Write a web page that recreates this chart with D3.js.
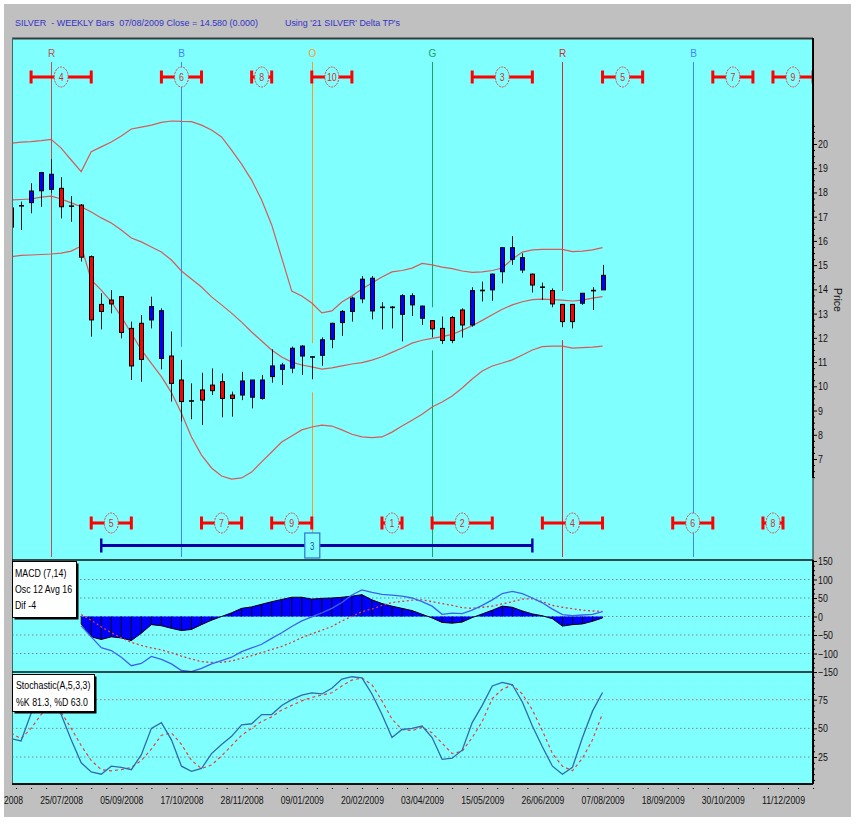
<!DOCTYPE html>
<html><head><meta charset="utf-8">
<script src="https://cdn.jsdelivr.net/npm/d3@7"></script>
<style>
body{margin:0;background:#fff}
svg{display:block}
text{font-family:"Liberation Sans",Arial,sans-serif;white-space:pre}
</style>
</head><body>
<svg id="chart" width="859" height="825"></svg>
<script>
// ---------------- DATA ----------------
const dates = ["20/06/2008","27/06/2008","04/07/2008","11/07/2008","18/07/2008","25/07/2008","01/08/2008","08/08/2008","15/08/2008","22/08/2008",
"29/08/2008","05/09/2008","12/09/2008","19/09/2008","26/09/2008","03/10/2008","10/10/2008","17/10/2008","24/10/2008","31/10/2008",
"07/11/2008","14/11/2008","21/11/2008","28/11/2008","05/12/2008","12/12/2008","19/12/2008","26/12/2008","02/01/2009","09/01/2009",
"16/01/2009","23/01/2009","30/01/2009","06/02/2009","13/02/2009","20/02/2009","27/02/2009","06/03/2009","13/03/2009","20/03/2009",
"27/03/2009","03/04/2009","10/04/2009","17/04/2009","24/04/2009","01/05/2009","08/05/2009","15/05/2009","22/05/2009","29/05/2009",
"05/06/2009","12/06/2009","19/06/2009","26/06/2009","03/07/2009","10/07/2009","17/07/2009","24/07/2009","31/07/2009","07/08/2009"];

const openP  = [16.57,17.42,17.58,18.07,18.13,18.17,17.45,17.48,15.35,13.38, 13.56,13.70,12.39,12.60,12.74,11.15,11.25,10.26,9.41,9.85,
                10.05,10.19,9.64,9.64,9.55,9.50,10.40,10.70,10.75,11.25, 11.20,11.28,11.94,12.63,13.09,13.61,13.11,13.27,13.25,12.97,
                13.36,12.81,12.71,12.39,12.84,13.15,12.53,13.94,13.98,14.73, 15.24,14.80,14.63,14.08,13.95,13.38,13.38,13.43,13.94,13.98];
const highP  = [17.40,17.62,18.38,18.85,19.37,18.63,17.85,17.52,15.40,13.84, 13.97,13.72,12.67,12.94,13.70,13.22,12.26,11.09,10.12,10.56,
                10.74,10.53,9.78,10.60,10.26,10.47,11.53,10.97,11.64,11.70, 11.24,12.02,12.62,13.15,13.70,14.55,14.55,13.47,13.31,13.80,
                13.84,13.33,12.73,12.88,12.90,13.22,14.09,14.32,14.65,15.74, 16.20,15.49,14.65,14.28,14.04,13.40,13.40,13.84,14.09,15.01];
const lowP   = [16.50,16.45,17.14,17.41,17.97,16.93,16.79,15.15,12.05,12.35, 13.01,11.98,10.26,10.19,12.39,10.70,9.37,8.54,8.64,8.40,
                9.64,8.72,8.75,9.43,9.09,9.45,10.15,10.05,10.54,10.47, 10.29,10.85,11.57,12.08,12.67,13.43,12.76,12.35,12.39,11.85,
                12.90,12.53,12.02,11.75,11.78,12.01,12.46,13.50,13.53,14.25, 15.01,14.67,13.87,13.56,13.26,12.44,12.39,13.36,13.15,13.98];
const closeP = [17.36,17.48,18.06,18.82,18.75,17.41,17.42,15.33,12.74,13.09, 13.40,12.22,10.84,11.11,13.29,13.12,10.12,9.37,9.38,9.43,
                9.82,9.50,9.50,10.22,10.26,10.26,10.84,10.88,11.57,11.66, 11.22,11.92,12.60,13.09,13.64,14.42,14.46,13.25,13.27,13.74,
                13.74,13.31,12.37,11.89,11.89,12.53,13.95,13.97,14.63,15.72, 15.72,15.31,14.18,14.10,13.40,12.67,12.67,13.84,13.96,14.58];

const bbUpper  = [20.03,20.08,20.10,20.14,20.19,19.83,19.34,18.86,19.68,19.88, 20.08,20.33,20.62,20.70,20.78,20.89,20.95,20.93,20.92,20.78,
                  20.58,20.29,19.75,19.17,18.51,17.69,16.66,15.30,13.93,13.73, 13.44,13.03,13.11,13.48,13.73,14.02,14.26,14.51,14.72,14.78,
                  14.88,15.07,15.01,14.92,14.86,14.76,14.70,14.72,14.78,14.88, 15.25,15.54,15.63,15.65,15.65,15.65,15.56,15.58,15.63,15.72];
const bbMiddle = [17.69,17.71,17.73,17.81,17.85,17.73,17.57,17.41,17.19,16.95, 16.74,16.45,16.12,15.96,15.75,15.54,15.21,14.76,14.43,14.10,
                  13.69,13.36,13.02,12.65,12.24,11.87,11.50,11.21,11.00,10.88, 10.80,10.71,10.76,10.84,10.92,10.98,11.08,11.22,11.40,11.58,
                  11.78,11.90,11.98,12.05,12.14,12.32,12.50,12.72,12.95,13.18, 13.36,13.49,13.58,13.60,13.58,13.56,13.52,13.56,13.64,13.70];
const bbLower  = [15.35,15.40,15.42,15.44,15.46,15.50,15.58,15.79,14.39,13.97, 13.49,12.87,12.19,11.50,10.95,10.40,9.74,8.89,7.91,7.16,
                  6.63,6.30,6.17,6.22,6.46,6.88,7.29,7.70,7.95,8.20, 8.32,8.40,8.36,8.20,8.02,7.91,7.88,7.91,8.11,8.36,
                  8.60,8.85,9.15,9.35,9.60,9.93,10.30,10.63,10.84,10.96, 11.09,11.29,11.50,11.64,11.66,11.66,11.58,11.60,11.62,11.66];

const N = null;
const macdHist   = [N,N,N,N,N,N,N,-20,-55,-62, -55,-58,-65,-45,-22,-25,-32,-38,-35,-22, -10,0,10,22,26,33,40,46,52,52,
                    47,49,50,52,55,59,45,35,28,22, 16,6,-4,-16,-18,-15,-3,7,17,28, 25,15,7,2,-6,-26,-22,-20,-13,-4];
const macdLine   = [N,N,N,N,N,N,N,-25,-55,-84, -92,-110,-133,-127,-108,-116,-128,-146,-149,-140, -128,-119,-110,-95,-85,-75,-59,-44,-27,-12,
                    -1,10,22,38,58,72,65,60,58,55, 50,40,28,6,9,8,17,30,45,62, 68,62,50,37,20,5,2,4,6,13];
const macdSignal = [N,N,N,N,N,N,N,5,-10,-28, -44,-58,-70,-78,-85,-90,-98,-107,-115,-122, -124,-124,-120,-113,-106,-98,-89,-81,-70,-57,
                    -47,-37,-27,-12,0,13,20,30,38,41, 44,45,40,35,30,24,22,25,28,34, 40,47,48,40,30,25,21,17,15,14];

const stochK = [41,39,63,80,78,62,40,20,12,10, 17,16,14,27,50,55,40,17,12.5,15, 28,36,43,53,54,62,62,70,75,79,
                81,80,85,93,95,94,80,62,42,49, 50,52,42,23,24,31,55,70,87,90, 88,73,52,34,17,10,16,42,65,81.3];
const stochD = [46,41,50,62,72,64,50,35,22,14, 13,14,16,22,32,44,46,36,22,15, 18,26,35,44,50,56,60,66,70,74,
                77,79,81,87,92,94,88,74,58,49, 48,51,46,37,28,30,42,56,76,84, 88,80,66,48,28,17,13,24,40,63];

const xTickLabels = ["13/06/2008","25/07/2008","05/09/2008","17/10/2008","28/11/2008","09/01/2009","20/02/2009",
                     "03/04/2009","15/05/2009","26/06/2009","07/08/2009","18/09/2009","30/10/2009","11/12/2009"];
const priceTicks = [7,8,9,10,11,12,13,14,15,16,17,18,19,20];
const macdTicks  = [150,100,50,0,-50,-100,-150];
const stochTicks = [75,50,25];

const cycleLines = [
  {label:"R", date:"18/07/2008", color:"#c05050", gap:false},
  {label:"B", date:"17/10/2008", color:"#3f86ff", gap:true},
  {label:"O", date:"16/01/2009", color:"#ff9a20", gap:true},
  {label:"G", date:"10/04/2009", color:"#1fa060", gap:true},
  {label:"R", date:"10/07/2009", color:"#d03030", gap:true},
  {label:"B", date:"09/10/2009", color:"#3f86ff", gap:false}
];
const topMarkers = [
  {n:"4",  from:"04/07/2008", mid:"25/07/2008", to:"15/08/2008"},
  {n:"6",  from:"03/10/2008", mid:"17/10/2008", to:"31/10/2008"},
  {n:"8",  from:"05/12/2008", mid:"12/12/2008", to:"19/12/2008"},
  {n:"10", from:"16/01/2009", mid:"30/01/2009", to:"13/02/2009"},
  {n:"3",  from:"08/05/2009", mid:"29/05/2009", to:"19/06/2009"},
  {n:"5",  from:"07/08/2009", mid:"21/08/2009", to:"04/09/2009"},
  {n:"7",  from:"23/10/2009", mid:"06/11/2009", to:"20/11/2009"},
  {n:"9",  from:"04/12/2009", mid:"18/12/2009", to:"01/01/2010"}
];
const bottomMarkers = [
  {n:"5", from:"15/08/2008", mid:"29/08/2008", to:"12/09/2008"},
  {n:"7", from:"31/10/2008", mid:"14/11/2008", to:"28/11/2008"},
  {n:"9", from:"19/12/2008", mid:"02/01/2009", to:"16/01/2009"},
  {n:"1", from:"06/03/2009", mid:"13/03/2009", to:"20/03/2009"},
  {n:"2", from:"10/04/2009", mid:"01/05/2009", to:"22/05/2009"},
  {n:"4", from:"26/06/2009", mid:"17/07/2009", to:"07/08/2009"},
  {n:"6", from:"25/09/2009", mid:"09/10/2009", to:"23/10/2009"},
  {n:"8", from:"27/11/2009", mid:"04/12/2009", to:"11/12/2009"}
];
const rangeBar = {n:"3", from:"22/08/2008", mid:"16/01/2009", to:"19/06/2009"};

const titleLeft  = "SILVER  - WEEKLY Bars  07/08/2009 Close = 14.580 (0.000)";
const titleRight = "Using '21 SILVER' Delta TP's";
const macdLegend = ["MACD (7,14)", "Osc 12 Avg 16", "Dif -4"];
const stochLegend = ["Stochastic(A,5,3,3)", "%K 81.3, %D 63.0"];

// ---------------- LAYOUT ----------------
const parse = d3.utcParse("%d/%m/%Y");
const PL = 12, PR = 813, PT = 38, PB = 784;
const priceBottom = 560, macdBottom = 672;

const x  = d3.scaleUtc().domain([parse("13/06/2008"), parse("11/12/2009")]).range([1, 783]);
const yP = d3.scaleLinear().domain([7, 20]).range([459, 144]);
const yM = d3.scaleLinear().domain([-150, 150]).range([672, 561]);
const yS = d3.scaleLinear().domain([0, 100]).range([785.7, 671]);

const svg = d3.select("#chart");
const defs = svg.append("defs");
defs.append("clipPath").attr("id","clipPrice").append("rect")
  .attr("x",PL).attr("y",PT).attr("width",PR-PL).attr("height",priceBottom-PT);
defs.append("clipPath").attr("id","clipMacd").append("rect")
  .attr("x",PL).attr("y",priceBottom).attr("width",PR-PL).attr("height",macdBottom-priceBottom);
defs.append("clipPath").attr("id","clipStoch").append("rect")
  .attr("x",PL).attr("y",macdBottom).attr("width",PR-PL).attr("height",PB-macdBottom);
defs.append("clipPath").attr("id","clipGray").append("rect")
  .attr("x",4).attr("y",4).attr("width",847).attr("height",813);

function narrow(sel, f){
  sel.each(function(){
    const w = this.getComputedTextLength();
    d3.select(this).attr("textLength", w*f).attr("lengthAdjust","spacingAndGlyphs");
  });
}

// background
svg.append("rect").attr("x",4).attr("y",4).attr("width",847).attr("height",813).attr("fill","#c0c0c0");
svg.append("rect").attr("x",PL).attr("y",PT).attr("width",PR-PL).attr("height",PB-PT).attr("fill","#80ffff");

// title
svg.append("text").attr("x",15).attr("y",26).attr("font-size",9.6).attr("fill","#3434c8")
  .attr("textLength",243).attr("lengthAdjust","spacingAndGlyphs").text(titleLeft);
svg.append("text").attr("x",285).attr("y",26).attr("font-size",9.6).attr("fill","#3434c8")
  .attr("textLength",115).attr("lengthAdjust","spacingAndGlyphs").text(titleRight);

const bars = dates.map((d,i)=>({date:parse(d), o:openP[i], h:highP[i], l:lowP[i], c:closeP[i],
  up:bbUpper[i], mid:bbMiddle[i], lo:bbLower[i], hist:macdHist[i], macd:macdLine[i], sig:macdSignal[i],
  k:stochK[i], dd:stochD[i]}));

// ---------------- PRICE PANEL ----------------
const gP = svg.append("g").attr("clip-path","url(#clipPrice)");

// cycle lines
cycleLines.forEach(c=>{
  const cx = Math.round(x(parse(c.date)))+0.5;
  const segs = [];
  if (c.gap){
    const b = bars.find(b=>+b.date===+parse(c.date));
    segs.push([62, yP(b.h)-13], [yP(b.l)+ (c.label==="B"?0:13), 557]);
  } else segs.push([62,557]);
  segs.forEach(s=> gP.append("line").attr("x1",cx).attr("x2",cx).attr("y1",s[0]).attr("y2",s[1])
      .attr("stroke",c.color).attr("stroke-width",1));
  gP.append("text").attr("x",cx).attr("y",57).attr("text-anchor","middle").attr("font-size",10)
    .attr("fill",c.color).text(c.label);
});

// bollinger bands
const bandColor = "#e04848";
["up","mid","lo"].forEach(key=>{
  gP.append("path").datum(bars)
    .attr("d", d3.line().x(d=>x(d.date)).y(d=>yP(d[key])))
    .attr("fill","none").attr("stroke",bandColor).attr("stroke-width",1.2).attr("opacity",0.9);
});

// candles
const cg = gP.append("g");
bars.forEach(b=>{
  const cx = Math.round(x(b.date))+0.5;
  cg.append("line").attr("x1",cx).attr("x2",cx).attr("y1",yP(b.h)).attr("y2",yP(b.l))
    .attr("stroke","#1a1a1a").attr("stroke-width",1);
  const top = yP(Math.max(b.o,b.c)), bot = yP(Math.min(b.o,b.c));
  if (bot - top < 2){
    cg.append("line").attr("x1",cx-2.5).attr("x2",cx+2.5).attr("y1",(top+bot)/2).attr("y2",(top+bot)/2)
      .attr("stroke","#000").attr("stroke-width",1.6);
  } else {
    cg.append("rect").attr("x",cx-2).attr("y",top).attr("width",4).attr("height",bot-top)
      .attr("fill", b.c>=b.o ? "#0000ff" : "#ff0000").attr("stroke","#000").attr("stroke-width",1);
  }
});

// markers
function drawMarker(m, y){
  const x0 = x(parse(m.from)), x1 = x(parse(m.to)), xm = x(parse(m.mid));
  gP.append("line").attr("x1",x0).attr("x2",x1).attr("y1",y).attr("y2",y)
    .attr("stroke","#ff0000").attr("stroke-width",3);
  [x0,x1].forEach(xx=> gP.append("rect").attr("x",xx-1.5).attr("y",y-6.5).attr("width",3).attr("height",13).attr("fill","#ff0000"));
  gP.append("ellipse").attr("cx",xm).attr("cy",y).attr("rx",7).attr("ry",10)
    .attr("fill","#80ffff").attr("stroke","#e04040").attr("stroke-width",1).attr("stroke-dasharray","2,1");
  gP.append("text").attr("x",xm).attr("y",y+4).attr("text-anchor","middle").attr("font-size",11)
    .attr("fill","#d03030").text(m.n).call(narrow,0.8);
}
topMarkers.forEach(m=>drawMarker(m, 77));
bottomMarkers.forEach(m=>drawMarker(m, 523));

// range bar
(function(){
  const x0 = x(parse(rangeBar.from)), x1 = x(parse(rangeBar.to)), xm = x(parse(rangeBar.mid));
  const y = 545.5;
  gP.append("line").attr("x1",x0).attr("x2",x1).attr("y1",y).attr("y2",y).attr("stroke","#0000a8").attr("stroke-width",3);
  [x0,x1].forEach(xx=> gP.append("rect").attr("x",xx-1.2).attr("y",y-7).attr("width",2.4).attr("height",14).attr("fill","#0000a8"));
  gP.append("rect").attr("x",xm-7).attr("y",533).attr("width",15).attr("height",25)
    .attr("fill","#80ffff").attr("stroke","#3070d0").attr("stroke-width",1.2);
  gP.append("text").attr("x",xm+0.5).attr("y",550).attr("text-anchor","middle").attr("font-size",10)
    .attr("fill","#2050a0").text(rangeBar.n).call(narrow,0.8);
})();

// ---------------- MACD PANEL ----------------
const gM = svg.append("g").attr("clip-path","url(#clipMacd)");
[100,50,0,-50,-100].forEach(v=> gM.append("line").attr("x1",PL).attr("x2",PR).attr("y1",yM(v)).attr("y2",yM(v))
  .attr("stroke","#7a8a8a").attr("stroke-width",1).attr("stroke-dasharray","1.5,2.5"));
const mData = bars.filter(d=>d.hist!==null);
gM.append("path").datum(mData)
  .attr("d", d3.area().x(d=>x(d.date)).y0(yM(0)).y1(d=>yM(d.hist)))
  .attr("fill","#0000ff").attr("stroke","none");
gM.append("path").datum(mData)
  .attr("d", d3.line().x(d=>x(d.date)).y(d=>yM(d.hist)))
  .attr("fill","none").attr("stroke","#000").attr("stroke-width",1);
mData.forEach(d=> gM.append("line").attr("x1",x(d.date)).attr("x2",x(d.date)).attr("y1",yM(0)).attr("y2",yM(d.hist))
  .attr("stroke","#000").attr("stroke-width",0.9));
gM.append("path").datum(mData)
  .attr("d", d3.line().x(d=>x(d.date)).y(d=>yM(d.sig)))
  .attr("fill","none").attr("stroke","#e03a3a").attr("stroke-width",1.3).attr("stroke-dasharray","2,2.5");
gM.append("path").datum(mData)
  .attr("d", d3.line().x(d=>x(d.date)).y(d=>yM(d.macd)))
  .attr("fill","none").attr("stroke","#3c62f0").attr("stroke-width",1.3);

// ---------------- STOCHASTIC PANEL ----------------
const gS = svg.append("g").attr("clip-path","url(#clipStoch)");
stochTicks.forEach(v=> gS.append("line").attr("x1",PL).attr("x2",PR).attr("y1",yS(v)).attr("y2",yS(v))
  .attr("stroke", v===75 ? "#c86a6a" : "#7a8a8a").attr("stroke-width",1).attr("stroke-dasharray","1.5,2.5"));
gS.append("path").datum(bars)
  .attr("d", d3.line().x(d=>x(d.date)).y(d=>yS(d.dd)))
  .attr("fill","none").attr("stroke","#e84040").attr("stroke-width",1.2).attr("stroke-dasharray","3,3");
gS.append("path").datum(bars)
  .attr("d", d3.line().x(d=>x(d.date)).y(d=>yS(d.k)))
  .attr("fill","none").attr("stroke","#2f6aaa").attr("stroke-width",1.3);

// ---------------- FRAME ----------------
svg.append("line").attr("x1",PL).attr("x2",PR).attr("y1",PT+0.5).attr("y2",PT+0.5).attr("stroke","#3a3a3a").attr("stroke-width",2);
svg.append("line").attr("x1",PL+0.5).attr("x2",PL+0.5).attr("y1",PT).attr("y2",PB).attr("stroke","#3a6a6a").attr("stroke-width",1);
svg.append("line").attr("x1",PL).attr("x2",PR).attr("y1",priceBottom).attr("y2",priceBottom).attr("stroke","#111").attr("stroke-width",1.5);
svg.append("line").attr("x1",PL).attr("x2",PR).attr("y1",macdBottom).attr("y2",macdBottom).attr("stroke","#111").attr("stroke-width",1.5);
svg.append("line").attr("x1",PL).attr("x2",PR).attr("y1",PB).attr("y2",PB).attr("stroke","#111").attr("stroke-width",2);
svg.append("line").attr("x1",PR).attr("x2",PR).attr("y1",PT).attr("y2",PB).attr("stroke","#222").attr("stroke-width",1);
svg.append("line").attr("x1",PR).attr("x2",PR).attr("y1",PT).attr("y2",478).attr("stroke","#000").attr("stroke-width",2);
svg.append("line").attr("x1",PR).attr("x2",PR).attr("y1",priceBottom).attr("y2",PB).attr("stroke","#000").attr("stroke-width",2);

// legends
function legend(lines, x0, y0, w, h, baselines, tx){
  svg.append("rect").attr("x",x0+2.5).attr("y",y0+2.5).attr("width",w).attr("height",h).attr("fill","#000");
  svg.append("rect").attr("x",x0+0.5).attr("y",y0+0.5).attr("width",w).attr("height",h).attr("fill","#fff").attr("stroke","#000").attr("stroke-width",1);
  lines.forEach((t,i)=> svg.append("text").attr("x",tx).attr("y",baselines[i]).attr("font-size",11).attr("fill","#000").text(t).call(narrow,0.8));
}
legend(macdLegend, PL, 561, 64, 56, [577,593,609], 15);
legend(stochLegend, PL, 674, 82, 37, [689,706], 16);

// ---------------- AXES ----------------
function styleAxis(g){
  g.select(".domain").remove();
  g.selectAll(".tick line").attr("stroke","#000");
  g.selectAll(".tick text").attr("font-family","Liberation Sans, Arial, sans-serif").attr("font-size",11).attr("fill","#111").call(narrow,0.8);
}
// price
svg.append("g").attr("transform",`translate(${PR},0)`)
  .call(d3.axisRight(yP).tickValues(d3.range(6.25,20.8,0.25).filter(v=>!Number.isInteger(v))).tickSize(2).tickFormat(""))
  .call(g=>{g.select(".domain").remove(); g.selectAll("line").attr("stroke","#000");});
svg.append("g").attr("transform",`translate(${PR},0)`)
  .call(d3.axisRight(yP).tickValues(priceTicks).tickSize(4).tickPadding(1)).call(styleAxis);
svg.append("text").attr("transform","translate(834,300) rotate(90)").attr("text-anchor","middle")
  .attr("font-size",10.5).attr("fill","#111").text("Price");
// macd
svg.append("g").attr("transform",`translate(${PR},0)`)
  .call(d3.axisRight(yM).tickValues(d3.range(-150,151,12.5).filter(v=>v%50!==0)).tickSize(2).tickFormat(""))
  .call(g=>{g.select(".domain").remove(); g.selectAll("line").attr("stroke","#000");});
svg.append("g").attr("transform",`translate(${PR},0)`)
  .call(d3.axisRight(yM).tickValues(macdTicks).tickSize(4).tickPadding(1)).call(styleAxis);
// stochastic
svg.append("g").attr("transform",`translate(${PR},0)`)
  .call(d3.axisRight(yS).tickValues(d3.range(5,100,5).filter(v=>v%25!==0)).tickSize(2).tickFormat(""))
  .call(g=>{g.select(".domain").remove(); g.selectAll("line").attr("stroke","#000");});
svg.append("g").attr("transform",`translate(${PR},0)`)
  .call(d3.axisRight(yS).tickValues(stochTicks).tickSize(4).tickPadding(1)).call(styleAxis);

// x axis
const xMinor = [];
xTickLabels.forEach(s=>{ for(let i=0;i<4;i++) xMinor.push(d3.utcHour.offset(parse(s), i*252)); });
const xa = svg.append("g").attr("transform",`translate(0,${PB})`).attr("clip-path","url(#clipGray)");
xa.call(d3.axisBottom(x).tickValues(xMinor.filter(d=>x(d)>=PL-0.5 && x(d)<=PR+0.5)).tickSize(5).tickFormat(""))
  .call(g=>{g.select(".domain").remove(); g.selectAll("line").attr("stroke","#000");});
const xl = svg.append("g").attr("transform",`translate(0,${PB})`).attr("clip-path","url(#clipGray)");
xl.call(d3.axisBottom(x).tickValues(xTickLabels.map(parse)).tickSize(0).tickPadding(12)
   .tickFormat(d=>d3.utcFormat("%d/%m/%Y")(d)))
  .call(g=>{g.select(".domain").remove();
    g.selectAll("text").attr("font-family","Liberation Sans, Arial, sans-serif").attr("font-size",11).attr("fill","#111")
     .attr("textLength",43).attr("lengthAdjust","spacingAndGlyphs");});
</script>
</body></html>
